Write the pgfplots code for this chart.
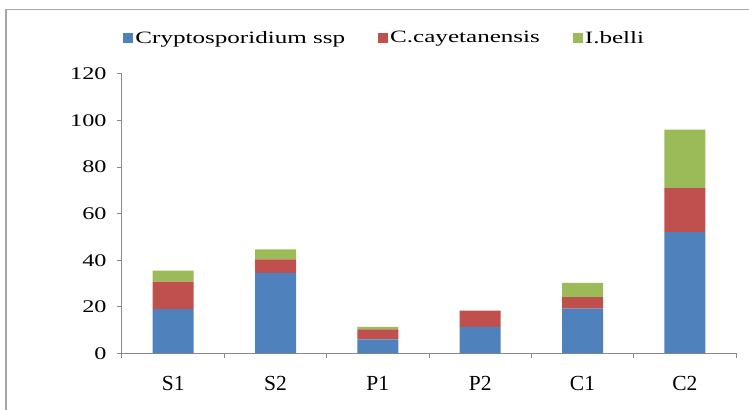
\documentclass[border=0pt]{standalone}
\usepackage{fontspec}
\setmainfont{Liberation Serif}
\usepackage{pgfplots}
\pgfplotsset{compat=1.18}
\definecolor{cblue}{HTML}{4F81BD}
\definecolor{cred}{HTML}{C0504D}
\definecolor{cgreen}{HTML}{9BBB59}
\definecolor{axgray}{HTML}{8A8A8A}
\pgfplotsset{sqleg/.style={legend image code/.code={\fill[##1,draw=none] (0bp,-5bp) rectangle (10bp,5bp);}}}
\newcommand\wideL[1]{\scalebox{1.45}[1]{#1}}
\begin{document}
\begin{tikzpicture}[x=1bp,y=1bp]
\useasboundingbox (-122,-55.7) rectangle (627,353.3);
\draw[line width=1.5bp, color=black!35] (-116,-80) -- (-116,343.8) -- (700,343.8);
\begin{axis}[
  at={(0,0)}, anchor=south west,
  scale only axis, width=614bp, height=279.3bp,
  ybar stacked, bar width=41bp,
  xmin=-0.5, xmax=5.5, ymin=0, ymax=120,
  enlargelimits=false,
  axis x line*=bottom, axis y line*=left,
  x axis line style={axgray, line width=1bp},
  y axis line style={axgray, line width=1bp},
  tick style={axgray, line width=1bp},
  tick align=outside, major tick length=5bp,
  ytick={0,20,...,120},
  /pgf/number format/assume math mode=true,
  yticklabel={\scalebox{1.36}[1]{\pgfmathprintnumber{\tick}}},
  yticklabel style={font=\fontsize{17.8bp}{20bp}\selectfont, text=black, xshift=-7bp},
  xtick={-0.5,0.5,1.5,2.5,3.5,4.5,5.5},
  xticklabels={,,,,,,},
  extra x ticks={0,1,2,3,4,5},
  extra x tick labels={S1,S2,P1,P2,C1,C2},
  extra x tick style={major tick length=0pt, tick style={draw=none},
     xticklabel style={font=\fontsize{21.5bp}{24bp}\selectfont, text=black, yshift=-19bp}},
  legend style={at={(0.428,1.129)}, anchor=center, draw=none, fill=none, text=black,
     font=\fontsize{17.3bp}{20bp}\selectfont,
     /tikz/every even column/.append style={column sep=31bp}},
  legend columns=3,
]
\addplot[fill=cblue, draw=none, sqleg] coordinates {(0,19.0) (1,34.6) (2,6.0) (3,11.4) (4,19.2) (5,52.1)};
\addplot[fill=cred, draw=none, sqleg] coordinates {(0,11.8) (1,5.8) (2,4.3) (3,6.9) (4,4.9) (5,18.9)};
\addplot[fill=cgreen, draw=none, sqleg] coordinates {(0,4.7) (1,4.3) (2,1.1) (3,0) (4,6.2) (5,25.1)};
\legend{\wideL{Cryptosporidium ssp},\wideL{C.cayetanensis},\wideL{I.belli}}
\end{axis}
\end{tikzpicture}
\end{document}
